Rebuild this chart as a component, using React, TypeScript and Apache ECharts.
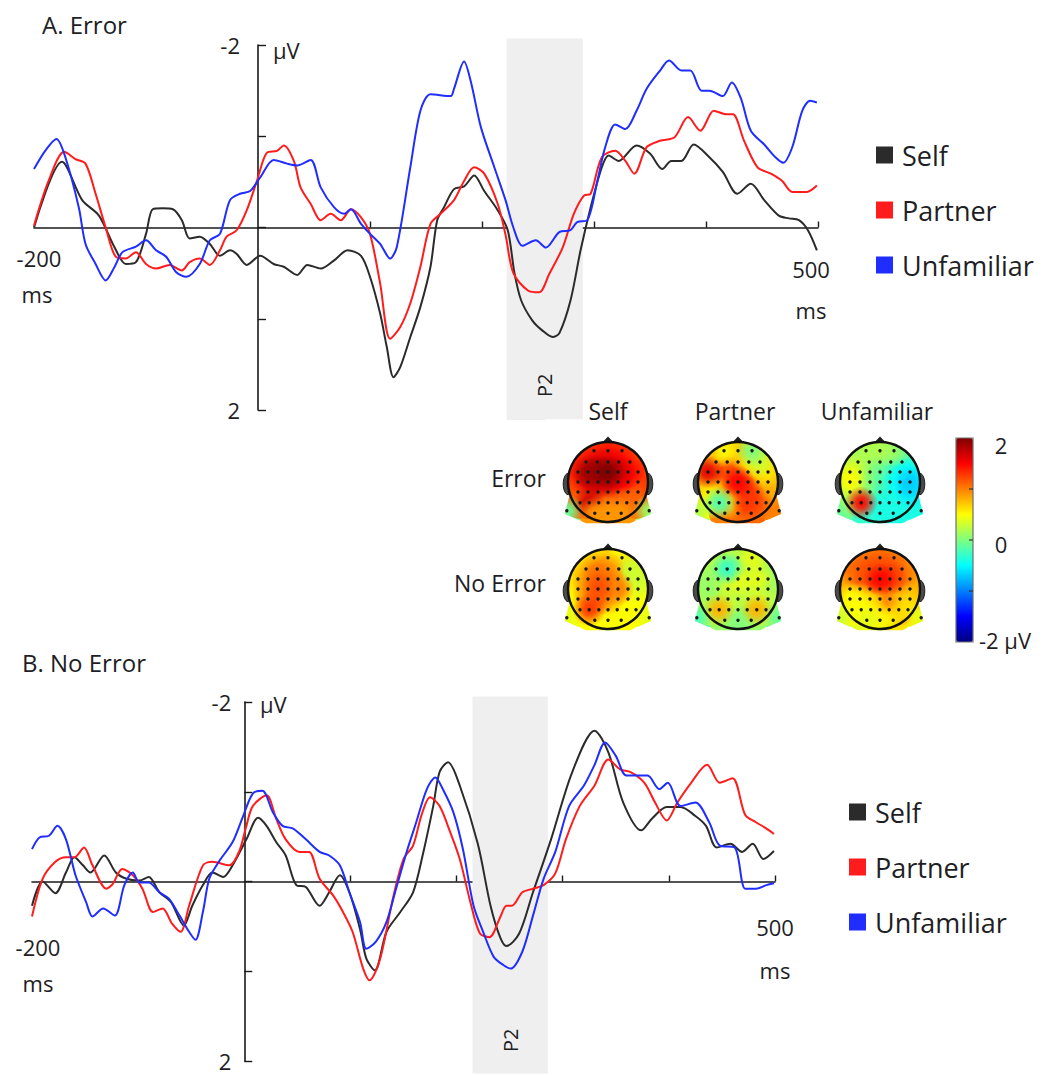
import React, { useEffect, useRef } from 'react';
import * as echarts from 'echarts';

const FONT = '"Open Sans", sans-serif';
const TEXT = '#1e1e24';
const AXIS = '#1a1a1a';

// ---- ERP waveforms: [time (ms), amplitude (µV)] ----
const conditions = ['Self', 'Partner', 'Unfamiliar'];
const lineColors = ['#2b2b2b', '#ff1c1c', '#1f2dff'];

const errorSelf: [number, number][] = [
  [-200, 0], [-175, -0.72], [-157, -0.3], [-142, -0.13], [-128, 0.22], [-118, 0.4], [-109, 0.38], [-100, 0.07],
  [-94, -0.2], [-85, -0.21], [-76, -0.2], [-68, -0.08], [-61, 0.12], [-52, 0.1], [-43, 0.18], [-34, 0.31],
  [-25, 0.25], [-19, 0.29], [-10, 0.41], [2, 0.31], [14, 0.4], [23, 0.43], [35, 0.52], [44, 0.41], [56, 0.45],
  [68, 0.36], [80, 0.25], [92, 0.31], [100, 0.54], [109, 0.94], [115, 1.31], [121, 1.64], [127, 1.53], [136, 1.2],
  [145, 0.87], [154, 0.43], [160, -0.08], [166, -0.22], [175, -0.42], [184, -0.45], [193, -0.57], [202, -0.4],
  [214, -0.19], [223, 0.03], [229, 0.5], [235, 0.8], [245, 1.02], [254, 1.13], [263, 1.2], [269, 1.16], [279, 0.8],
  [288, 0.25], [297, -0.22], [307, -0.66], [313, -0.79], [322, -0.73], [338, -0.9], [350, -0.81], [361, -0.64],
  [369, -0.73], [378, -0.73], [389, -0.91], [403, -0.77], [415, -0.61], [428, -0.37], [440, -0.48], [452, -0.3],
  [465, -0.13], [474, -0.1], [483, -0.08], [491, 0.03], [499, 0.25],
];

const errorPartner: [number, number][] = [
  [-200, -0.02], [-187, -0.51], [-173, -0.83], [-163, -0.75], [-154, -0.7], [-145, -0.37], [-136, 0], [-127, 0.32],
  [-118, 0.34], [-109, 0.27], [-100, 0.4], [-91, 0.45], [-79, 0.41], [-68, 0.47], [-61, 0.38], [-52, 0.34],
  [-43, 0.41], [-34, 0.25], [-28, 0.1], [-19, 0.03], [-10, -0.19], [-1, -0.51], [8, -0.82], [17, -0.84], [23, -0.9],
  [32, -0.73], [38, -0.44], [47, -0.26], [56, -0.08], [65, -0.15], [74, -0.08], [83, -0.2], [92, -0.11], [100, 0.07],
  [109, 0.61], [118, 1.22], [127, 1.09], [136, 0.83], [145, 0.43], [154, -0.04], [163, -0.15], [175, -0.3],
  [184, -0.51], [193, -0.66], [202, -0.59], [214, -0.26], [221, 0.08], [228, 0.5], [241, 0.69], [251, 0.71],
  [260, 0.51], [272, 0.22], [282, -0.15], [291, -0.35], [297, -0.37], [307, -0.77], [319, -0.84], [328, -0.73],
  [336, -0.59], [347, -0.88], [359, -0.95], [372, -0.99], [384, -1.21], [395, -1.06], [407, -1.28], [418, -1.24],
  [424, -1.24], [434, -0.95], [446, -0.66], [458, -0.59], [468, -0.51], [477, -0.39], [490, -0.39], [499, -0.46],
];

const errorUnfamiliar: [number, number][] = [
  [-200, -0.64], [-190, -0.84], [-180, -0.97], [-172, -0.77], [-160, -0.22], [-154, 0.18], [-145, 0.4], [-136, 0.58],
  [-128, 0.43], [-121, 0.27], [-109, 0.21], [-100, 0.14], [-91, 0.25], [-82, 0.32], [-73, 0.49], [-64, 0.54],
  [-52, 0.4], [-43, 0.14], [-34, 0.07], [-25, -0.3], [-16, -0.37], [-7, -0.4], [2, -0.55], [14, -0.74], [26, -0.7],
  [35, -0.68], [47, -0.74], [56, -0.44], [68, -0.22], [77, -0.15], [83, -0.2], [92, -0.04], [100, 0.07], [109, 0.18],
  [118, 0.34], [124, 0.21], [136, -0.66], [145, -1.28], [154, -1.46], [172, -1.44], [175, -1.52], [184, -1.82],
  [190, -1.6], [199, -1.1], [211, -0.66], [221, -0.3], [228, 0.0], [236, 0.2], [248, 0.14], [257, 0.22], [269, 0.05],
  [279, 0.03], [285, -0.06], [294, -0.08], [303, -0.51], [310, -0.88], [319, -1.13], [328, -1.08], [338, -1.28],
  [347, -1.52], [359, -1.72], [367, -1.83], [378, -1.72], [386, -1.72], [396, -1.5], [403, -1.5], [415, -1.44],
  [423, -1.59], [431, -1.42], [440, -1.06], [452, -0.91], [462, -0.77], [469, -0.71], [477, -0.88], [486, -1.28],
  [493, -1.39], [499, -1.37],
];

const noErrorSelf: [number, number][] = [
  [-200, 0.27], [-190, 0], [-178, 0.13], [-168, -0.1], [-160, -0.27], [-152, -0.18], [-145, -0.1], [-132, -0.29],
  [-121, -0.1], [-111, -0.03], [-99, -0.01], [-90, -0.05], [-80, 0.12], [-69, 0.23], [-57, 0.49], [-49, 0.27],
  [-39, 0.04], [-30, -0.1], [-20, -0.05], [-11, -0.18], [2, -0.47], [13, -0.71], [21, -0.62], [30, -0.44],
  [39, -0.29], [49, 0.04], [58, 0.06], [71, 0.27], [80, 0.12], [90, -0.07], [99, 0.12], [109, 0.53], [115, 0.86],
  [123, 0.99], [134, 0.56], [147, 0.34], [159, 0.12], [168, -0.29], [178, -0.84], [184, -1.22], [192, -1.33],
  [203, -1.07], [220, -0.42], [232, 0.27], [241, 0.62], [247, 0.72], [259, 0.58], [272, 0.12], [289, -0.47],
  [309, -1.22], [330, -1.68], [343, -1.44], [357, -0.88], [374, -0.57], [384, -0.7], [398, -0.83], [411, -0.83],
  [425, -0.73], [435, -0.62], [445, -0.38], [458, -0.42], [469, -0.33], [479, -0.42], [489, -0.25], [499, -0.34],
];

const noErrorPartner: [number, number][] = [
  [-200, 0.39], [-190, -0.03], [-178, -0.22], [-168, -0.27], [-160, -0.27], [-151, -0.38], [-143, -0.18], [-130, 0.08],
  [-124, 0.03], [-115, -0.14], [-105, -0.07], [-96, 0.08], [-86, 0.34], [-77, 0.3], [-68, 0.47], [-60, 0.56],
  [-52, 0.27], [-39, -0.18], [-30, -0.22], [-14, -0.18], [-5, -0.33], [2, -0.62], [8, -0.84], [21, -0.96], [30, -0.7],
  [39, -0.47], [52, -0.33], [61, -0.33], [71, -0.03], [84, 0.16], [93, 0.34], [102, 0.56], [112, 0.97], [118, 1.1],
  [128, 0.86], [140, 0.19], [150, -0.25], [159, -0.4], [167, -0.74], [175, -0.94], [184, -0.84], [194, -0.55],
  [203, -0.25], [213, 0.23], [222, 0.58], [231, 0.62], [241, 0.4], [247, 0.27], [252, 0.27], [262, 0.12], [272, 0.08],
  [282, 0.04], [293, -0.09], [303, -0.47], [316, -0.84], [330, -1.07], [343, -1.36], [354, -1.25], [364, -1.22],
  [377, -1.1], [387, -0.88], [398, -0.68], [408, -0.88], [421, -1.1], [436, -1.3], [448, -1.1], [460, -1.15],
  [472, -0.74], [482, -0.66], [492, -0.59], [499, -0.53],
];

const noErrorUnfamiliar: [number, number][] = [
  [-200, -0.36], [-193, -0.49], [-184, -0.51], [-176, -0.62], [-168, -0.47], [-159, -0.07], [-149, 0.23], [-143, 0.39],
  [-133, 0.3], [-122, 0.38], [-113, 0.04], [-105, -0.1], [-99, 0.01], [-90, 0.01], [-80, 0.12], [-71, 0.19],
  [-61, 0.38], [-52, 0.56], [-46, 0.65], [-39, 0.34], [-33, -0.03], [-24, -0.22], [-11, -0.44], [-2, -0.7], [8, -0.98],
  [17, -1.01], [27, -0.77], [36, -0.62], [46, -0.59], [58, -0.47], [71, -0.33], [80, -0.29], [90, -0.18], [99, 0.12],
  [109, 0.45], [115, 0.75], [124, 0.67], [134, 0.45], [143, 0.08], [153, -0.33], [162, -0.66], [172, -1.03],
  [180, -1.16], [187, -1.03], [197, -0.77], [206, -0.36], [216, 0.27], [225, 0.56], [235, 0.84], [244, 0.93],
  [251, 0.97], [262, 0.78], [272, 0.38], [282, -0.03], [293, -0.33], [306, -0.84], [320, -1.07], [330, -1.3],
  [340, -1.55], [350, -1.4], [360, -1.18], [374, -1.18], [380, -1.18], [391, -1.03], [399, -1.1], [411, -0.84],
  [425, -0.88], [438, -0.66], [448, -0.4], [462, -0.38], [472, 0.08], [482, 0.08], [492, 0.04], [499, 0.02],
];

// P2 analysis windows (ms)
const p2Error: [number, number] = [222, 290];
const p2NoError: [number, number] = [215, 286];

// ---- Scalp topographies at the P2 window (µV per electrode) ----
// Electrode montage in head-radius units: [row y, column x positions]
const montageRows: [number, number[]][] = [
  [-0.78, [-0.35, 0, 0.35]],
  [-0.5, [-0.55, -0.27, 0, 0.27, 0.55]],
  [-0.25, [-0.75, -0.5, -0.25, 0, 0.25, 0.5, 0.75]],
  [0, [-0.75, -0.5, -0.25, 0, 0.25, 0.5, 0.75]],
  [0.25, [-0.75, -0.5, -0.25, 0, 0.25, 0.5, 0.75]],
  [0.52, [-0.7, -0.47, -0.23, 0, 0.23, 0.47, 0.7]],
  [0.78, [-0.33, 0, 0.33]],
  [0.72, [-1.03, 1.03]],
];

const topoErrorSelf = [
  1.3, 1.4, 1.3,
  1.4, 1.6, 1.6, 1.5, 1.3,
  1.4, 1.9, 1.9, 2.0, 1.7, 1.5, 1.3,
  1.3, 1.6, 1.7, 1.7, 1.5, 1.4, 1.3,
  1.2, 1.3, 1.4, 1.4, 1.3, 1.3, 1.2,
  1.1, 1.7, 1.1, 1.1, 1.1, 1.1, 1.1,
  0.9, 0.9, 0.9,
  -0.1, 0.1,
];
const topoErrorPartner = [
  0.5, 0.7, 0.0,
  0.8, 1.0, 1.0, 0.6, 0.3,
  1.6, 1.1, 1.2, 1.1, 0.9, 0.7, 0.6,
  0.8, 1.0, 1.2, 1.5, 1.2, 0.9, 0.8,
  0.6, 0.8, 1.0, 1.2, 1.3, 1.1, 0.8,
  0.5, -0.2, 0.7, 1.1, 1.3, 1.2, 1.0,
  1.0, 1.1, 1.1,
  0.2, 1.0,
];
const topoErrorUnfamiliar = [
  0.2, 0.2, 0.1,
  0.2, 0.0, -0.1, -0.1, -0.2,
  0.4, 0.1, -0.1, -0.2, -0.3, -0.4, -0.5,
  0.5, 0.1, -0.1, -0.2, -0.3, -0.5, -0.7,
  0.2, 0.0, -0.2, -0.3, -0.3, -0.4, -0.6,
  0.1, 1.5, -0.2, -0.3, -0.4, -0.4, -0.4,
  -0.3, -0.4, -0.4,
  -0.1, -0.4,
];
const topoNoErrorSelf = [
  0.6, 0.7, 0.5,
  0.7, 1.0, 0.9, 0.7, 0.3,
  0.6, 0.9, 1.1, 1.0, 0.8, 0.6, 0.3,
  0.6, 0.9, 1.2, 0.9, 1.0, 0.6, 0.4,
  0.5, 0.9, 1.1, 0.8, 0.7, 0.6, 0.5,
  0.5, 1.3, 0.7, 0.6, 0.6, 0.5, 0.5,
  0.5, 0.5, 0.5,
  0.4, 0.4,
];
const topoNoErrorPartner = [
  0.2, 0.2, 0.4,
  0.2, -0.3, 0.1, 0.3, 0.2,
  0.1, 0.2, 0.3, 0.4, 0.3, 0.4, 0.1,
  0.1, 0.2, 0.3, 0.2, 0.3, 0.3, 0.2,
  0.2, 0.2, 0.2, 0.2, 0.2, 0.3, 0.2,
  0.2, 0.8, 0.3, 0.2, 0.2, 0.8, 0.2,
  0.1, 0.0, 0.1,
  -0.2, -0.1,
];
const topoNoErrorUnfamiliar = [
  1.0, 1.1, 1.0,
  1.1, 1.2, 1.2, 1.2, 1.0,
  1.0, 1.1, 1.2, 1.5, 1.3, 1.1, 0.9,
  0.8, 0.9, 1.0, 1.1, 1.0, 0.9, 0.8,
  0.5, 0.6, 0.7, 0.8, 0.8, 0.8, 0.7,
  0.5, 0.5, 0.6, 0.8, 1.0, 0.8, 0.6,
  0.4, 0.5, 0.6,
  0.3, 0.4,
];

const topoMaps = [
  topoErrorSelf, topoErrorPartner, topoErrorUnfamiliar,
  topoNoErrorSelf, topoNoErrorPartner, topoNoErrorUnfamiliar,
];
// head centres on the page (px)
const topoCenters: [number, number][] = [
  [608, 482], [738, 482], [880, 482],
  [608, 589], [738, 589], [880, 589],
];
const HEAD_PX = 40; // head radius in px
const TOPO_EXT = 1.6; // half-extent of each topo grid in head units

const jet = ['#00007f', '#0000ff', '#007fff', '#00ffff', '#7fff7f', '#ffff00', '#ff7f00', '#ff0000', '#7f0000'];

function withAlpha(c: string, a: number): string {
  let r = 0, g = 0, b = 0;
  if (c.startsWith('#')) {
    let h = c.slice(1);
    if (h.length === 3) h = h.split('').map((x) => x + x).join('');
    r = parseInt(h.slice(0, 2), 16);
    g = parseInt(h.slice(2, 4), 16);
    b = parseInt(h.slice(4, 6), 16);
  } else {
    const m = c.match(/\(([^)]+)\)/);
    if (m) {
      const p = m[1].split(',').map((s) => parseFloat(s));
      r = p[0]; g = p[1]; b = p[2];
    }
  }
  return `rgba(${Math.round(r)},${Math.round(g)},${Math.round(b)},${a})`;
}

const montage: [number, number][] = [];
montageRows.forEach(([y, xs]) => xs.forEach((x) => montage.push([x, y])));

function txt(text: string, x: number, y: number, size: number, align = 'center', vAlign = 'middle', extra: any = {}) {
  return {
    type: 'text', x, y, z: 100, silent: true,
    style: {
      text, fill: TEXT, fontSize: size, fontFamily: FONT,
      textAlign: align, align, textVerticalAlign: vAlign, verticalAlign: vAlign, ...extra,
    },
  };
}

// time axis (-200..500 ms) and amplitude axis (negative up) crossing at zero
function erpAxes(gridIndex: number, gridWidth: number, labelMargin: number, labelPadding: number[]) {
  const x = {
    type: 'value', gridIndex, min: -200, max: 500, interval: 100,
    axisLine: { onZero: true, lineStyle: { color: AXIS, width: 1.6 } },
    axisTick: { inside: true, length: 6, customValues: [100, 200, 300, 400, 500], lineStyle: { color: AXIS, width: 1.4 } },
    axisLabel: { show: false },
    splitLine: { show: false },
  };
  const y = {
    type: 'value', gridIndex, min: -2, max: 2, interval: 1, inverse: true,
    offset: -(gridWidth * 200) / 700,
    axisLine: { onZero: false, lineStyle: { color: AXIS, width: 1.6 } },
    axisTick: { inside: true, length: 8, lineStyle: { color: AXIS, width: 1.4 } },
    axisLabel: {
      margin: labelMargin, fontSize: 22, lineHeight: 20, color: TEXT, fontFamily: FONT, padding: labelPadding,
      formatter: (v: number) => (v === -2 || v === 2 ? String(v) : ''),
    },
    splitLine: { show: false },
  };
  return { x, y };
}

function bandSeries(axisIndex: number, win: [number, number], top: number, bottom: number, labelAt: number) {
  return {
    type: 'custom', xAxisIndex: axisIndex, yAxisIndex: axisIndex, clip: false, z: 1, silent: true,
    data: [[win[0], win[1]]],
    renderItem: (_p: any, api: any) => {
      const a = api.coord([api.value(0), top]);
      const b = api.coord([api.value(1), bottom]);
      const ly = api.coord([0, labelAt])[1];
      return {
        type: 'group',
        children: [
          { type: 'rect', shape: { x: a[0], y: a[1], width: b[0] - a[0], height: b[1] - a[1] }, style: { fill: '#efefef' } },
          {
            type: 'text', x: (a[0] + b[0]) / 2, y: ly, rotation: Math.PI / 2,
            style: { text: 'P2', fill: TEXT, fontSize: 20, fontFamily: FONT, textAlign: 'center', align: 'center', textVerticalAlign: 'middle', verticalAlign: 'middle' },
          },
        ],
      };
    },
  };
}

function lineSeries(name: string, color: string, data: [number, number][], axisIndex: number) {
  return {
    type: 'line', name, xAxisIndex: axisIndex, yAxisIndex: axisIndex, data,
    showSymbol: false, smooth: 0.3, z: 3, silent: true,
    lineStyle: { width: 2, color },
    itemStyle: { color },
    emphasis: { disabled: true },
  };
}

function fmt(p: number[]) {
  return `${p[0].toFixed(2)} ${p[1].toFixed(2)}`;
}

// base patches under each electrode
const baseItem = (_p: any, api: any) => {
  const c = api.coord([api.value(0), api.value(1)]);
  const k = Math.abs(api.size([1, 1])[0]);
  return { type: 'circle', shape: { cx: c[0], cy: c[1], r: 0.4 * k }, style: { fill: api.visual('color') } };
};

// soft blending halo around each electrode
const blendItem = (_p: any, api: any) => {
  const c = api.coord([api.value(0), api.value(1)]);
  const k = Math.abs(api.size([1, 1])[0]);
  const col = api.visual('color');
  return {
    type: 'circle', shape: { cx: c[0], cy: c[1], r: 0.42 * k },
    style: {
      fill: {
        type: 'radial', x: 0.5, y: 0.5, r: 0.5,
        colorStops: [
          { offset: 0, color: withAlpha(col, 1) },
          { offset: 0.35, color: withAlpha(col, 0.8) },
          { offset: 1, color: withAlpha(col, 0) },
        ],
      },
    },
  };
};

// head outline, mask outside the scalp, nose, ears and electrode dots
const headItem = (params: any, api: any) => {
  const pt = (x: number, y: number) => api.coord([x, y]);
  const c = pt(api.value(0), api.value(1));
  const dot = { type: 'circle', shape: { cx: c[0], cy: c[1], r: 1.7 }, style: { fill: '#1a1a1a' } };
  if (params.dataIndex !== 0) return dot;
  const k = Math.abs(api.size([1, 1])[0]);
  const E = 1.57;
  let d = `M${fmt(pt(-E, -E))}L${fmt(pt(E, -E))}L${fmt(pt(E, E))}L${fmt(pt(-E, E))}Z`;
  const skirt: [number, number][] = [[-0.954, 0.3], [-1.08, 0.8], [-0.55, 1.03], [0.55, 1.03], [1.08, 0.8], [0.954, 0.3]];
  d += `M${fmt(pt(skirt[0][0], skirt[0][1]))}`;
  for (let i = 1; i < skirt.length; i++) d += `L${fmt(pt(skirt[i][0], skirt[i][1]))}`;
  for (let a = 12.5; a >= -197.5; a -= 5) {
    const t = (a * Math.PI) / 180;
    d += `L${fmt(pt(Math.cos(t), Math.sin(t)))}`;
  }
  d += 'Z';
  const o = pt(0, 0);
  const ear = (s: number) => {
    const pts: number[][] = [];
    for (let a = -90; a <= 90; a += 15) {
      const t = (a * Math.PI) / 180;
      pts.push(pt(s * (0.99 + 0.13 * Math.cos(t)), 0.05 + 0.27 * Math.sin(t)));
    }
    return { type: 'polygon', shape: { points: pts }, style: { fill: '#4a4a4a', stroke: '#1e1e1e', lineWidth: 1 } };
  };
  return {
    type: 'group',
    children: [
      { type: 'path', shape: { pathData: d }, style: { fill: '#ffffff' } },
      ear(-1), ear(1),
      { type: 'polygon', shape: { points: [pt(-0.15, -0.98), pt(0, -1.14), pt(0.15, -0.98)] }, style: { fill: '#1e1e1e' } },
      { type: 'circle', shape: { cx: o[0], cy: o[1], r: k }, style: { fill: 'none', stroke: '#111111', lineWidth: 2.4 } },
      dot,
    ],
  };
};

export default function App() {
  const ref = useRef<HTMLDivElement>(null);

  useEffect(() => {
    if (!ref.current) return;
    const chart = echarts.init(ref.current, undefined, { renderer: 'svg' });

    const gridA = { left: 34, top: 45, width: 784, height: 365 };
    const gridB = { left: 32, top: 702, width: 743, height: 361 };
    const A = erpAxes(0, gridA.width, 18, [0, 0, 0, 0]);
    const B = erpAxes(1, gridB.width, 13, [0, 0, 8, 0]);

    const grids: any[] = [gridA, gridB];
    const xAxes: any[] = [A.x, B.x];
    const yAxes: any[] = [A.y, B.y];

    const series: any[] = [
      bandSeries(0, p2Error, -2.07, 2.11, 1.73),
      bandSeries(1, p2NoError, -2.06, 2.14, 1.77),
      lineSeries(conditions[0], lineColors[0], errorSelf, 0),
      lineSeries(conditions[1], lineColors[1], errorPartner, 0),
      lineSeries(conditions[2], lineColors[2], errorUnfamiliar, 0),
      lineSeries(conditions[0], lineColors[0], noErrorSelf, 1),
      lineSeries(conditions[1], lineColors[1], noErrorPartner, 1),
      lineSeries(conditions[2], lineColors[2], noErrorUnfamiliar, 1),
    ];

    const mappedSeries: number[] = [];
    topoMaps.forEach((vals, m) => {
      const gi = 2 + m;
      const [cx, cy] = topoCenters[m];
      const half = TOPO_EXT * HEAD_PX;
      grids.push({ left: cx - half, top: cy - half, width: 2 * half, height: 2 * half });
      xAxes.push({ type: 'value', gridIndex: gi, min: -TOPO_EXT, max: TOPO_EXT, show: false });
      yAxes.push({ type: 'value', gridIndex: gi, min: -TOPO_EXT, max: TOPO_EXT, inverse: true, show: false });
      const data = montage.map((p, i) => [p[0], p[1], vals[i]]);
      // typical values form the base mosaic; outlying electrodes are blended on top as soft spots
      const sorted = [...vals].sort((a, b) => a - b);
      const median = sorted[Math.floor(sorted.length / 2)];
      const dev = (r: number[]) => Math.abs(r[2] - median);
      const typicalLast = [...data].sort((a, b) => dev(b) - dev(a));
      const outlierLast = [...data].sort((a, b) => dev(a) - dev(b));
      mappedSeries.push(series.length);
      series.push({ type: 'custom', xAxisIndex: gi, yAxisIndex: gi, clip: false, z: 2, silent: true, data: typicalLast, renderItem: baseItem });
      mappedSeries.push(series.length);
      series.push({ type: 'custom', xAxisIndex: gi, yAxisIndex: gi, clip: false, z: 3, silent: true, data: outlierLast, renderItem: blendItem });
      series.push({ type: 'custom', xAxisIndex: gi, yAxisIndex: gi, clip: false, z: 4, silent: true, data, renderItem: headItem });
    });

    const legendBase = {
      data: conditions, orient: 'vertical', icon: 'rect', itemWidth: 17, itemHeight: 17,
      itemGap: 25, padding: 0, selectedMode: false,
      textStyle: { fontSize: 27, lineHeight: 30, color: TEXT, fontFamily: FONT, padding: [0, 0, 0, 4] },
    };

    const graphic: any[] = [
      txt('A. Error', 42, 24, 24, 'left'),
      txt('B. No Error', 22, 662, 24, 'left'),
      txt('μV', 273, 50, 22, 'left'),
      txt('μV', 260, 704, 22, 'left'),
      txt('-200', 39, 258, 22), txt('ms', 37, 294, 22),
      txt('500', 811, 269, 22), txt('ms', 811, 310, 22),
      txt('-200', 38, 947, 22), txt('ms', 38, 983, 22),
      txt('500', 775, 927, 22), txt('ms', 775, 970, 22),
      txt('Self', 608, 411, 23), txt('Partner', 735, 411, 23), txt('Unfamiliar', 877, 411, 23),
      txt('Error', 546, 478, 23, 'right'), txt('No Error', 546, 583, 23, 'right'),
      txt('2', 1001, 445, 22), txt('0', 1001, 544, 22), txt('-2 μV', 979, 640, 22, 'left'),
      { type: 'rect', z: 100, silent: true, shape: { x: 956, y: 438, width: 17, height: 204 }, style: { fill: 'none', stroke: '#6e6e6e', lineWidth: 1.2 } },
      ...[489, 540, 591].map((y) => ({
        type: 'line', z: 100, silent: true, shape: { x1: 969, y1: y, x2: 973, y2: y }, style: { stroke: '#333', lineWidth: 1.2 },
      })),
    ];

    chart.setOption({
      animation: false,
      backgroundColor: '#ffffff',
      textStyle: { fontFamily: FONT },
      grid: grids,
      xAxis: xAxes,
      yAxis: yAxes,
      legend: [
        { ...legendBase, left: 876, top: 140 },
        { ...legendBase, left: 849, top: 797 },
      ],
      visualMap: {
        type: 'continuous', min: -2, max: 2, dimension: 2, seriesIndex: mappedSeries,
        inRange: { color: jet }, calculable: false, hoverLink: false,
        left: 956, top: 438, itemWidth: 17, itemHeight: 204, padding: 0,
      },
      graphic,
      series,
    });

    return () => chart.dispose();
  }, []);

  return <div ref={ref} style={{ position: 'absolute', left: 0, top: 0, width: 1043, height: 1075 }} />;
}
